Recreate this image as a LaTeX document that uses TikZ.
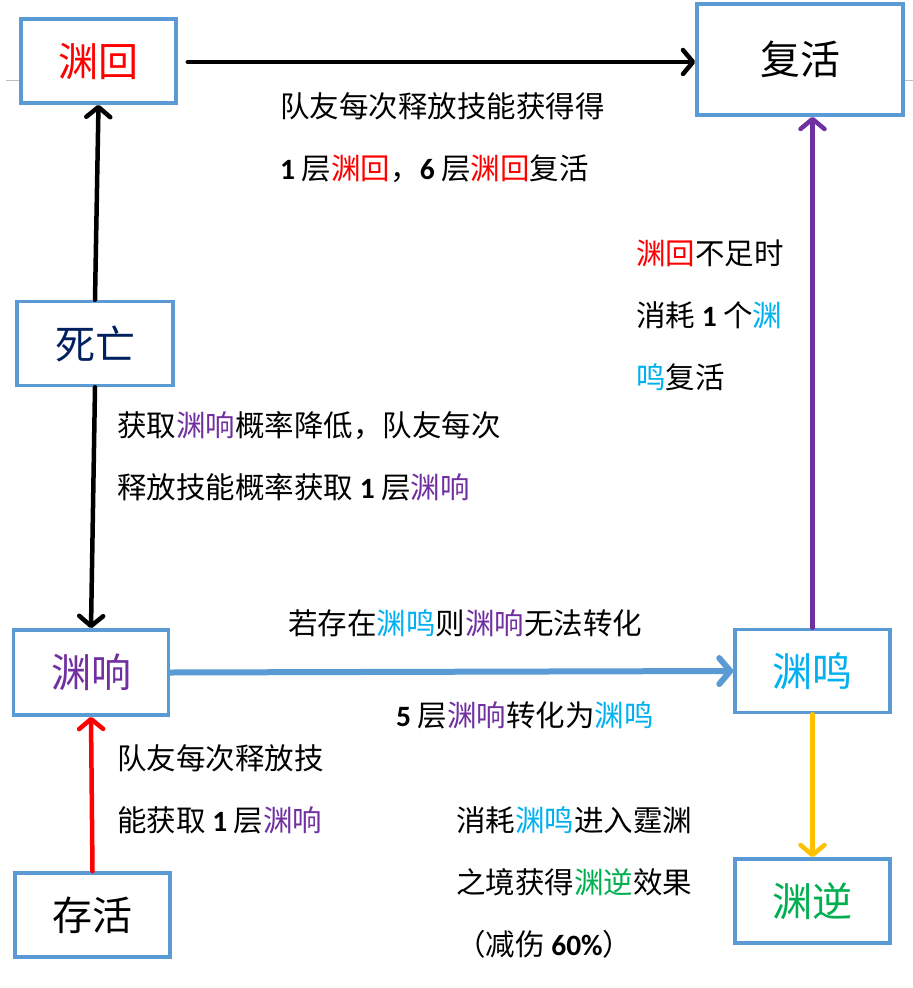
\documentclass[tikz,border=0pt]{standalone}
\usepackage{fontspec}
\setmainfont{Noto Sans CJK SC}
\newfontfamily\numfont{Carlito}
\usepackage{xcolor}
\definecolor{boxblue}{RGB}{91,155,213}
\definecolor{huired}{RGB}{255,0,0}
\definecolor{xiangpurple}{RGB}{112,48,160}
\definecolor{mingblue}{RGB}{0,176,240}
\definecolor{nigreen}{RGB}{0,176,80}
\definecolor{arrowgold}{RGB}{255,192,0}
\definecolor{deathnavy}{RGB}{0,32,96}
\usepackage{tikz}
\usetikzlibrary{
  arrows.meta,
  positioning
}
\tikzset{
  statebox/.style={draw=boxblue, line width=3.5pt, fill=white,
    minimum width=155pt, minimum height=84pt, inner sep=0pt,
    align=center, font=\fontsize{40}{48}\selectfont},
  notetext/.style={anchor=west, align=left, inner sep=0pt,
    font=\fontsize{29.5}{62}\selectfont},
  arr/.style={-{Straight Barb[length=10pt, width=24pt, round]},
    line width=4.5pt, line cap=round},
}
\newcommand{\YuanHui}{\textcolor{huired}{渊回}}
\newcommand{\YuanXiang}{\textcolor{xiangpurple}{渊响}}
\newcommand{\YuanMing}{\textcolor{mingblue}{渊鸣}}
\newcommand{\YuanNi}{\textcolor{nigreen}{渊逆}}
\newcommand{\bnum}[1]{{\numfont\bfseries #1}}

\begin{document}
\begin{tikzpicture}[x=1pt, y=-1pt,
  cornermark/.style={draw=black!25, line width=1pt}
]
  \useasboundingbox (0,0) rectangle (913,988);

  % word margin marks
  \draw[cornermark] (6,80) -- (40,80) -- (40,47);
  \draw[cornermark] (913,80) -- (872,80) -- (872,47);

  % states
  \node[statebox] (hui) at (98.5,61) {\YuanHui};
  \node[statebox, minimum width=206pt, minimum height=111pt] (fuhuo) at (800,59.5) {复活};
  \node[statebox, text=deathnavy, minimum width=156pt] (siwang) at (95,343.5) {死亡};
  \node[statebox, minimum height=85pt] (xiang) at (91,672.5) {\YuanXiang};
  \node[statebox, minimum height=83pt] (ming) at (812.5,671) {\YuanMing};
  \node[statebox] (ni) at (812.5,901) {\YuanNi};
  \node[statebox] (cunhuo) at (92.5,915) {存活};

  % connectors
  \draw[arr] ([xshift=10pt]hui.east |- 0,62) -- (fuhuo.west |- 0,62);
  \draw[arr] (siwang.north) -- (hui.south);
  \draw[arr] (siwang.south) -- (xiang.north);
  \draw[arr, huired] (cunhuo.north) -- (xiang.south);
  \draw[arr, boxblue, line width=6pt,
    -{Straight Barb[length=11pt, width=26pt, round]}] (xiang.east) -- (ming.west);
  \draw[arr, xiangpurple] (ming.north) -- (ming.north |- fuhuo.south);
  \draw[arr, arrowgold] (ming.south) -- (ni.north);

  % notes
  \node[notetext] (n1) at (280,137.5) {队友每次释放技能获得得\\
    \bnum{1} 层\YuanHui，\bnum{6} 层\YuanHui 复活};
  \node[notetext] (n2) at (636,315) {\YuanHui 不足时\\
    消耗 \bnum{1} 个\textcolor{mingblue}{渊}\\
    \textcolor{mingblue}{鸣}复活};
  \node[notetext] (n3) at (117,456) {获取\YuanXiang 概率降低，队友每次\\
    释放技能概率获取 \bnum{1} 层\YuanXiang};
  \node[notetext] (n4) at (288,623) {若存在\YuanMing 则\YuanXiang 无法转化};
  \node[notetext] (n5) at (396,715) {\bnum{5} 层\YuanXiang 转化为\YuanMing};
  \node[notetext] (n6) at (117,789) {队友每次释放技\\
    能获取 \bnum{1} 层\YuanXiang};
  \node[notetext] (n7) at (456,882) {消耗\YuanMing 进入霆渊\\
    之境获得\YuanNi 效果\\
    （减伤 \bnum{60\%}）};
\end{tikzpicture}
\end{document}
